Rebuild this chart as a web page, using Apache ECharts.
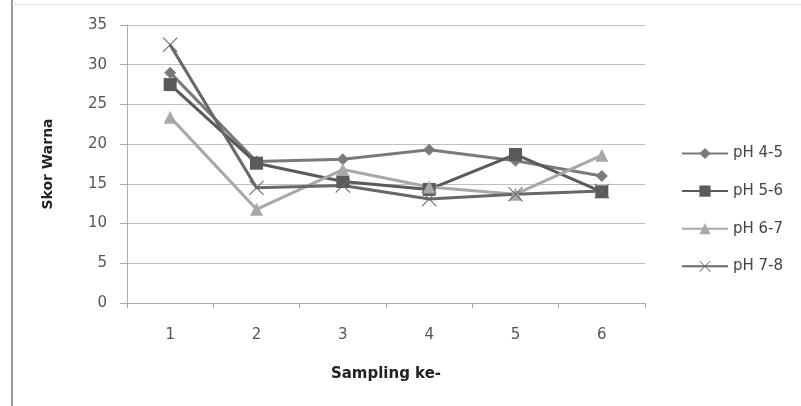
<!DOCTYPE html>
<html><head><meta charset="utf-8">
<script src="https://cdn.jsdelivr.net/npm/echarts@6/dist/echarts.min.js"></script>
<style>html,body{margin:0;padding:0;background:#fff}#c{width:801px;height:406px}</style>
</head><body><div id="c"></div>
<script>
const categories = ['1','2','3','4','5','6'];
const seriesNames = ['pH 4-5','pH 5-6','pH 6-7','pH 7-8'];
const ph45 = [29, 17.8, 18.1, 19.3, 17.9, 16];
const ph56 = [27.5, 17.6, 15.3, 14.3, 18.7, 14];
const ph67 = [23.4, 11.8, 16.8, 14.6, 13.7, 18.6];
const ph78 = [32.5, 14.5, 14.8, 13.1, 13.7, 14.1];
const yTicks = [0, 35, 5];

const font = '"DejaVu Sans", sans-serif';
const crossPath = 'path://M0,1L1,0L10,9L19,0L20,1L11,10L20,19L19,20L10,11L1,20L0,19L9,10Z';
const colors = ['#7a7a7a', '#5a5a5a', '#a8a8a8', '#686868'];
const symbols = ['diamond', 'rect', 'triangle', crossPath];
const sizes = [12, 13, 13, 15];
const datas = [ph45, ph56, ph67, ph78];

const chart = echarts.init(document.getElementById('c'), null, {renderer: 'canvas'});
chart.setOption({
  animation: false,
  backgroundColor: '#ffffff',
  grid: {left: 127, right: 156, top: 25, bottom: 103, containLabel: false},
  graphic: [
    {type: 'line', shape: {x1: 12, y1: 0, x2: 12, y2: 406}, style: {stroke: '#9a9a9a', lineWidth: 2}},
    {type: 'line', shape: {x1: 12, y1: 4.5, x2: 801, y2: 4.5}, style: {stroke: '#e6e6e6', lineWidth: 1}}
  ],
  legend: {
    orient: 'vertical', left: 676, top: 141,
    itemWidth: 46, itemHeight: 14, itemGap: 22.6,
    textStyle: {fontFamily: font, fontSize: 15, color: '#444'},
    data: seriesNames
  },
  xAxis: {
    type: 'category', data: categories, boundaryGap: true,
    name: 'Sampling ke-', nameLocation: 'middle', nameGap: 64,
    nameTextStyle: {fontFamily: font, fontSize: 15, fontWeight: 'bold', color: '#222'},
    axisLine: {lineStyle: {color: '#aaaaaa', width: 1}},
    axisTick: {show: true, length: 5, lineStyle: {color: '#aaaaaa'}},
    axisLabel: {fontFamily: font, fontSize: 15, color: '#555', margin: 25},
    splitLine: {show: false}
  },
  yAxis: {
    type: 'value', min: yTicks[0], max: yTicks[1], interval: yTicks[2],
    name: 'Skor Warna', nameLocation: 'middle', nameGap: 72, nameRotate: 90,
    nameTextStyle: {fontFamily: font, fontSize: 14, fontWeight: 'bold', color: '#222'},
    axisLine: {show: true, lineStyle: {color: '#aaaaaa', width: 1}},
    axisTick: {show: true, length: 7, lineStyle: {color: '#aaaaaa'}},
    axisLabel: {fontFamily: font, fontSize: 15, color: '#555', margin: 20},
    splitLine: {show: true, lineStyle: {color: '#bfbfbf', width: 1}}
  },
  series: seriesNames.map((n, i) => ({
    name: n, type: 'line', data: datas[i],
    symbol: symbols[i], symbolSize: sizes[i],
    lineStyle: {color: colors[i], width: 3},
    itemStyle: {color: colors[i], borderWidth: 0},
    emphasis: {disabled: true}
  }))
});
</script></body></html>
